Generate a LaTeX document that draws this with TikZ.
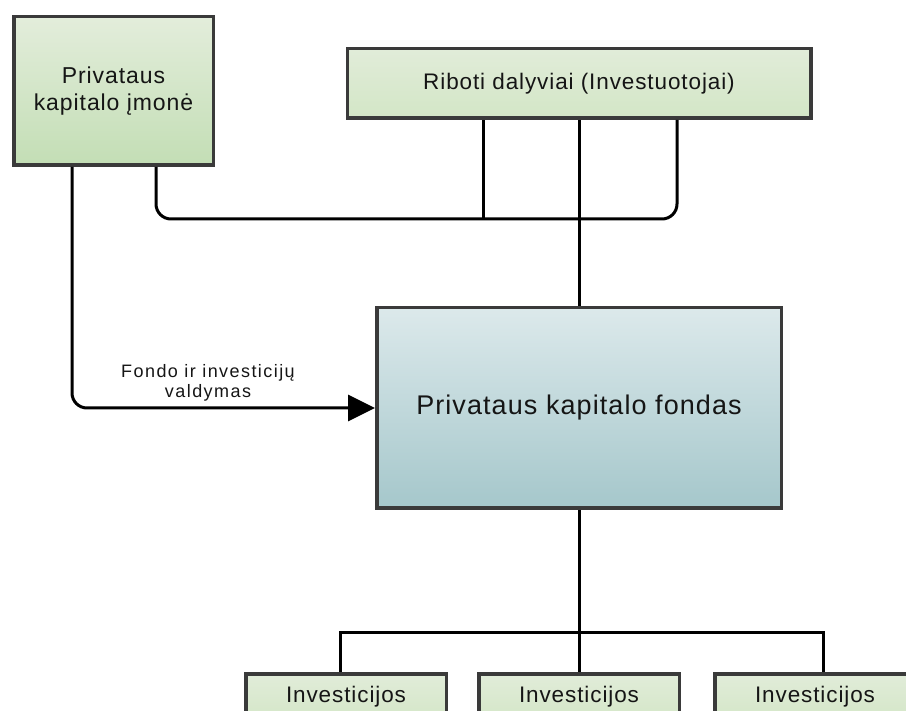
\documentclass[tikz,border=0pt]{standalone}
\usepackage{fontspec}
\setmainfont{Liberation Sans}
\usetikzlibrary{positioning,arrows.meta}

\definecolor{edgegray}{HTML}{3A3A3A}
\definecolor{ink}{HTML}{151515}
\definecolor{greentop}{HTML}{E3EDDB}
\definecolor{greenbot}{HTML}{C3DEB5}
\definecolor{paletop}{HTML}{E1ECD9}
\definecolor{palebot}{HTML}{D3E6C6}
\definecolor{bluetop}{HTML}{DCE9EB}
\definecolor{bluebot}{HTML}{A5C7CB}

\newcommand{\spaced}[2]{\fontsize{#1}{#2}\selectfont\addfontfeature{LetterSpace=4}}

\begin{document}
\begin{tikzpicture}[x=1pt, y=-1pt, on grid,
    box/.style={draw=edgegray, line width=3.5pt, text=ink, align=center, inner sep=0pt},
    greenbox/.style={box, top color=greentop, bottom color=greenbot},
    palebox/.style={box, top color=paletop, bottom color=palebot},
    fundbox/.style={box, top color=bluetop, bottom color=bluebot},
    investbox/.style={palebox, minimum width=200.5pt, minimum height=50pt, font=\spaced{22.5}{26}},
    link/.style={draw=black, line width=3pt},
    lbl/.style={text=ink, align=center, font={\fontsize{18}{20}\selectfont\addfontfeature{LetterSpace=8}}}]
    \path[use as bounding box] (0,0) rectangle (906,711);
    \clip (0,0) rectangle (906,711);

    \node[fundbox, minimum width=404.5pt, minimum height=200.5pt,
          font=\spaced{27}{31}] (fund) at (579,408) {Privataus kapitalo fondas};
    \node[greenbox, minimum width=199.5pt, minimum height=148.5pt,
          font=\spaced{23}{27}] (pe) at (113.5,91) {Privataus\\kapitalo įmonė};
    \node[palebox, minimum width=463.5pt, minimum height=69.5pt,
          font=\spaced{22.5}{26}, above=324.5pt of fund] (lp) {Riboti dalyviai (Investuotojai)};

    \node[investbox, below=290.75pt of fund] (inv2) {\raisebox{9pt}{Investicijos}};
    \node[investbox, left=233pt of inv2] (inv1) {\raisebox{9pt}{Investicijos}};
    \node[investbox, right=236pt of inv2] (inv3) {\raisebox{9pt}{Investicijos}};

    \coordinate (busL) at (483,219);
    \coordinate (busR) at (677,219);
    \coordinate (split) at (579,632);

    % owners and manager into the fund
    \path[link] (lp.south) -- (fund.north);
    \path[link] (busL) -- (busL |- lp.south);
    \path[link, rounded corners=15pt] ([xshift=42.5pt]pe.south) |- (busR) -- (busR |- lp.south);
    \path[link, rounded corners=15pt, -{Triangle[length=27pt, width=26pt]}]
        ([xshift=-41.5pt]pe.south) |- (fund.west);
    \node[lbl] (mgmt) at (208,383) {Fondo ir investicijų\\valdymas};

    % fund to investments
    \path[link] (fund.south) -- (inv2.north);
    \path[link] ([xshift=-5.5pt]inv1.north) |- (split) -| ([xshift=8pt]inv3.north);
\end{tikzpicture}
\end{document}
